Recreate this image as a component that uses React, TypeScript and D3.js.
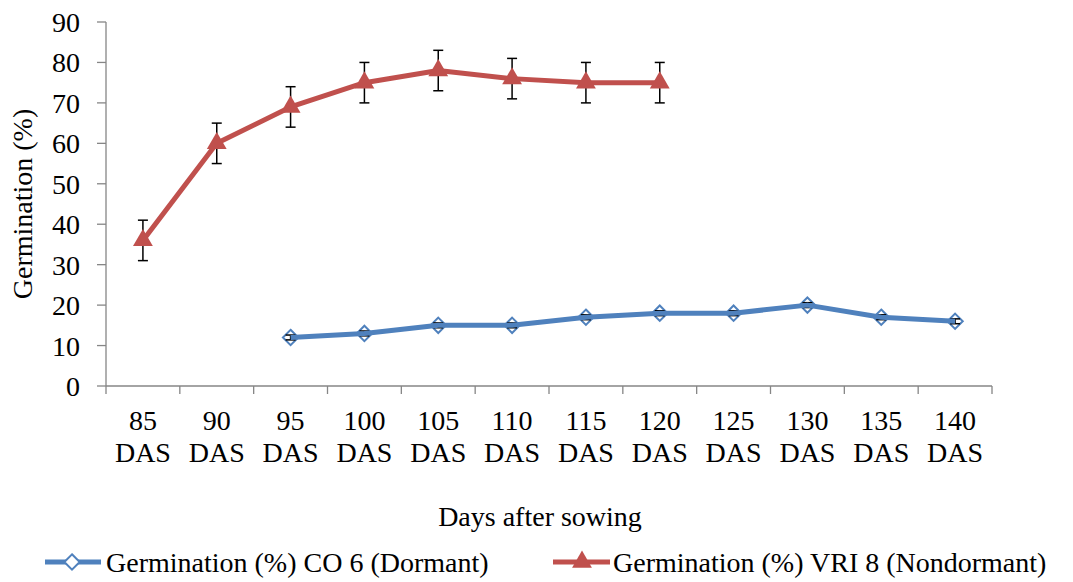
import React from 'react';
import * as d3 from 'd3';

const categories = ['85', '90', '95', '100', '105', '110', '115', '120', '125', '130', '135', '140'];
const yTicks = [0, 10, 20, 30, 40, 50, 60, 70, 80, 90];

// CO 6 (Dormant) starts at 95 DAS
const co6Days = ['95', '100', '105', '110', '115', '120', '125', '130', '135', '140'];
const co6Values = [12, 13, 15, 15, 17, 18, 18, 20, 17, 16];
const co6Errors = [0.6, 0.6, 0.6, 0.6, 0.6, 0.6, 0.6, 0.6, 0.6, 0.6];

// VRI 8 (Nondormant) ends at 120 DAS
const vriDays = ['85', '90', '95', '100', '105', '110', '115', '120'];
const vriValues = [36, 60, 69, 75, 78, 76, 75, 75];
const vriErrors = [5, 5, 5, 5, 5, 5, 5, 5];

const BLUE = '#4F81BD';
const RED = '#C0504D';
const AXIS = '#868686';
const FONT = '"Liberation Serif", "Times New Roman", Tinos, serif';

const left = 106, right = 992, top = 22, bottom = 386;
const x = d3.scaleBand().domain(categories).range([left, right]);
const y = d3.scaleLinear().domain([0, 90]).range([bottom, top]);
const cx = (d: string) => (x(d) as number) + x.bandwidth() / 2;
const line = d3.line<[string, number]>().x(d => cx(d[0])).y(d => y(d[1]));
const diamond = d3.symbol().type(d3.symbolDiamond2).size(150)() as string;
const tri = d3.symbol().type(d3.symbolTriangle).size(170)() as string;

const T = (props: any) => (
  <text {...props} fontFamily={FONT} fontSize={28} style={{ fontFamily: FONT }} />
);

const ErrorBars = ({ days, vals, errs }: { days: string[]; vals: number[]; errs: number[] }) => (
  <g stroke="#000" strokeWidth={1.5}>
    {days.map((d, i) => {
      const y1 = y(vals[i] + errs[i]), y2 = y(vals[i] - errs[i]);
      return (
        <g key={d}>
          <line x1={cx(d)} x2={cx(d)} y1={y1} y2={y2} />
          <line x1={cx(d) - 5} x2={cx(d) + 5} y1={y1} y2={y1} />
          <line x1={cx(d) - 5} x2={cx(d) + 5} y1={y2} y2={y2} />
        </g>
      );
    })}
  </g>
);

const App = () => {
  const co6 = co6Days.map((d, i) => [d, co6Values[i]] as [string, number]);
  const vri = vriDays.map((d, i) => [d, vriValues[i]] as [string, number]);
  const edges = categories.map(c => x(c) as number).concat([right]);
  const ly = 562;

  return (
    <svg width={1073} height={582} style={{ position: 'absolute', left: 0, top: 0, background: '#fff' }}>
      {/* y axis */}
      <line x1={left} x2={left} y1={top} y2={bottom} stroke={AXIS} strokeWidth={1.3} />
      {yTicks.map(t => (
        <g key={t}>
          <line x1={left - 9} x2={left} y1={y(t)} y2={y(t)} stroke={AXIS} strokeWidth={1.3} />
          <T x={80} y={y(t) + 10} textAnchor="end">{t}</T>
        </g>
      ))}

      {/* x axis */}
      <line x1={left} x2={right} y1={bottom} y2={bottom} stroke={AXIS} strokeWidth={1.3} />
      {edges.map((e, i) => (
        <line key={i} x1={e} x2={e} y1={bottom} y2={bottom + 8} stroke={AXIS} strokeWidth={1.3} />
      ))}
      {categories.map(c => (
        <g key={c}>
          <T x={cx(c)} y={430} textAnchor="middle">{c}</T>
          <T x={cx(c)} y={462} textAnchor="middle">DAS</T>
        </g>
      ))}

      {/* axis titles */}
      <T transform="translate(32,204) rotate(-90)" textAnchor="middle">Germination (%)</T>
      <T x={540} y={526} textAnchor="middle">Days after sowing</T>

      {/* CO 6 */}
      {co6.map(p => (
        <path key={p[0]} d={diamond} transform={`translate(${cx(p[0])},${y(p[1])})`}
          fill="#fff" stroke={BLUE} strokeWidth={2} />
      ))}
      <ErrorBars days={co6Days} vals={co6Values} errs={co6Errors} />
      <path d={line(co6) as string} fill="none" stroke={BLUE} strokeWidth={5} strokeLinejoin="round" />

      {/* VRI 8 */}
      <path d={line(vri) as string} fill="none" stroke={RED} strokeWidth={5} strokeLinejoin="round" />
      <ErrorBars days={vriDays} vals={vriValues} errs={vriErrors} />
      {vri.map(p => (
        <path key={p[0]} d={tri} transform={`translate(${cx(p[0])},${y(p[1])})`} fill={RED} />
      ))}

      {/* legend */}
      <line x1={45} x2={101} y1={ly} y2={ly} stroke={BLUE} strokeWidth={5} />
      <path d={diamond} transform={`translate(72,${ly})`} fill="#fff" stroke={BLUE} strokeWidth={2} />
      <T x={106} y={ly + 10}>Germination (%) CO 6 (Dormant)</T>

      <line x1={553} x2={610} y1={ly} y2={ly} stroke={RED} strokeWidth={5} />
      <path d={tri} transform={`translate(582,${ly})`} fill={RED} />
      <T x={613} y={ly + 10}>Germination (%) VRI 8 (Nondormant)</T>
    </svg>
  );
};

export default App;
